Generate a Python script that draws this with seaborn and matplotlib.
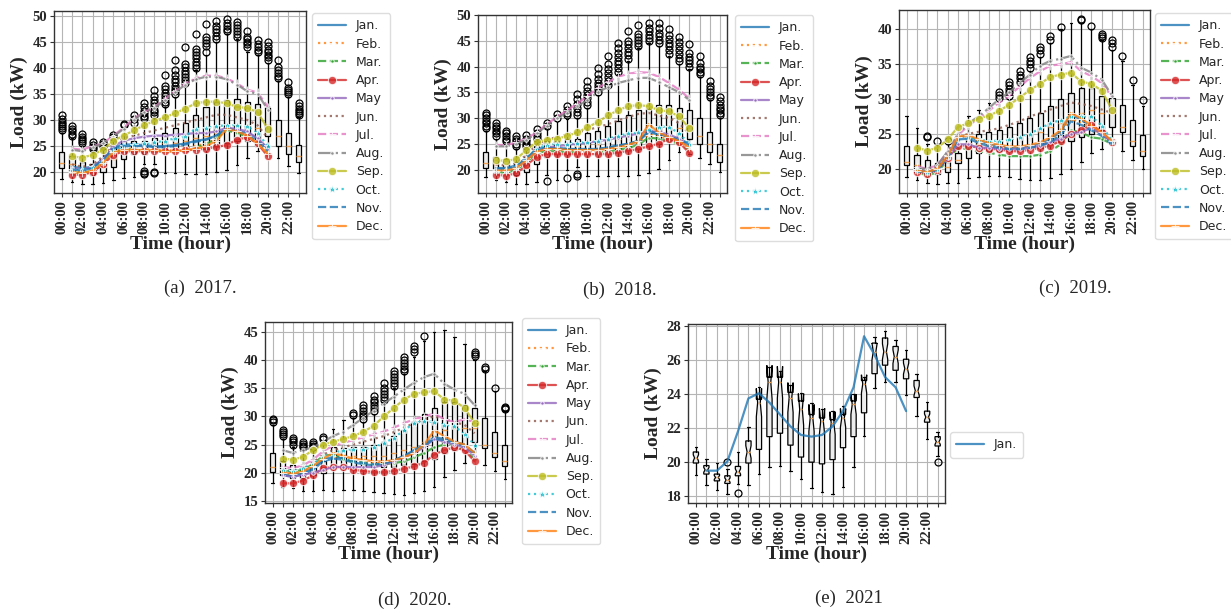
import numpy as np
import pandas as pd
import matplotlib
matplotlib.use("Agg")
import matplotlib.pyplot as plt
import seaborn as sns

# ---------------------------------------------------------------- labels
HOURS = [f"{h:02d}:00" for h in range(24)]
MONTHS = ["Jan.", "Feb.", "Mar.", "Apr.", "May", "Jun.",
          "Jul.", "Aug.", "Sep.", "Oct.", "Nov.", "Dec."]
LINE_HOURS = list(range(1, 21))   # hourly positions covered by the monthly curves

# ---------------------------------------------------------------- 2017
q1_2017 = [20.8, 20.3, 19.8, 19.5, 20.0, 21.0, 22.5, 23.5, 23.5, 24.0, 24.0, 24.0,
           24.0, 24.5, 24.5, 25.0, 25.5, 26.0, 26.0, 25.0, 27.0, 25.0, 23.5, 22.0]
med_2017 = [21.8, 21.5, 20.8, 20.3, 21.0, 22.5, 24.0, 24.5, 24.5, 25.0, 25.5, 25.5,
            26.0, 26.5, 27.0, 27.5, 28.5, 29.0, 29.0, 28.5, 29.0, 27.0, 25.0, 23.0]
q3_2017 = [23.8, 23.0, 22.0, 21.5, 22.5, 24.9, 25.9, 26.0, 26.0, 26.5, 27.5, 28.5,
           29.5, 31.0, 32.5, 33.5, 33.8, 34.0, 33.5, 33.0, 32.5, 30.0, 27.5, 25.2]
lo_2017 = [18.7, 18.2, 17.8, 17.7, 18.0, 18.4, 18.9, 19.0, 21.5, 21.5, 19.9, 19.8,
           19.7, 19.6, 19.6, 20.0, 20.5, 21.3, 22.8, 24.0, 24.0, 22.8, 21.2, 19.8]
hi_2017 = [27.5, 26.5, 25.0, 24.0, 24.5, 26.3, 28.5, 28.8, 29.8, 30.5, 32.5, 34.5,
           36.5, 39.5, 42.5, 45.0, 46.5, 45.5, 43.0, 42.5, 41.0, 37.5, 34.5, 30.5]
fl_2017 = [
    [28.0, 28.4, 28.8, 29.2, 29.6, 30.1, 30.9],
    [27.0, 27.4, 27.8, 28.3, 28.8],
    [25.5, 25.9, 26.3, 26.8, 27.3],
    [24.5, 24.9, 25.3, 25.8],
    [25.0, 25.4, 25.8],
    [26.8, 27.1],
    [29.0, 29.3],
    [29.5, 30.2, 31.0],
    [30.3, 30.8, 31.3, 31.8, 32.4, 33.3, 19.6, 19.9, 20.2],
    [31.0, 31.5, 32.0, 32.6, 33.2, 33.8, 34.6, 35.8, 19.8, 20.1],
    [33.0, 33.5, 34.0, 34.6, 35.2, 35.9, 36.6, 38.6],
    [35.0, 35.5, 36.0, 36.6, 37.2, 37.9, 38.6, 39.5, 41.5],
    [37.0, 37.6, 38.2, 38.8, 39.4, 40.1, 40.8, 44.0],
    [40.0, 40.6, 41.2, 41.8, 42.4, 43.0, 43.7, 46.5],
    [43.0, 44.2, 44.8, 45.4, 46.0, 48.5],
    [45.5, 46.2, 46.8, 47.4, 48.0, 49.0],
    [47.0, 47.5, 48.0, 48.6, 49.4],
    [46.0, 46.5, 47.0, 47.6, 48.2, 48.8],
    [44.0, 44.5, 45.0, 45.5, 46.0, 47.0],
    [43.0, 43.5, 44.0, 44.6, 45.3],
    [41.5, 42.0, 42.5, 43.0, 43.5, 44.2, 45.0],
    [38.0, 38.5, 39.0, 39.6, 40.2, 41.5],
    [35.0, 35.4, 35.8, 36.2, 37.3],
    [31.0, 31.4, 31.8, 32.2, 32.7, 33.3],
]
lines_2017 = {
    "Jan.": [21.0, 20.8, 21.0, 22.5, 24.8, 25.3, 25.3, 25.2, 25.0, 25.0, 25.2, 25.5, 26.0, 26.3, 27.0, 28.5, 28.0, 27.5, 26.5, 24.5],
    "Feb.": [20.3, 20.0, 20.5, 22.0, 24.0, 24.5, 24.5, 24.4, 24.3, 24.2, 24.3, 24.6, 25.0, 25.5, 26.3, 28.2, 27.8, 27.0, 26.0, 24.0],
    "Mar.": [20.0, 19.8, 20.3, 21.8, 23.8, 24.3, 24.3, 24.2, 24.0, 24.0, 24.0, 24.3, 24.8, 25.3, 26.5, 28.0, 27.5, 26.8, 25.5, 23.5],
    "Apr.": [19.5, 19.5, 20.0, 21.5, 23.3, 24.0, 24.0, 24.0, 24.0, 24.0, 24.0, 24.2, 24.3, 24.5, 24.8, 25.2, 26.2, 26.7, 25.5, 23.0],
    "May":  [20.8, 20.5, 21.0, 22.5, 25.0, 26.0, 26.5, 26.8, 27.0, 27.0, 27.2, 27.3, 27.5, 27.5, 27.8, 28.5, 28.3, 27.8, 26.5, 24.5],
    "Jun.": [21.5, 21.0, 21.5, 23.0, 25.5, 26.5, 27.0, 27.5, 28.0, 28.5, 29.0, 29.5, 30.0, 30.5, 31.0, 31.0, 30.5, 30.0, 29.0, 26.5],
    "Jul.": [24.5, 24.3, 25.0, 25.5, 27.0, 28.5, 30.3, 31.5, 32.5, 34.0, 35.5, 37.0, 38.0, 38.5, 38.5, 38.0, 37.0, 35.8, 35.3, 32.5],
    "Aug.": [24.3, 24.0, 24.8, 25.5, 26.8, 28.3, 30.0, 31.5, 32.3, 33.8, 35.3, 36.8, 37.8, 38.3, 38.3, 37.8, 36.8, 35.5, 35.0, 32.0],
    "Sep.": [23.0, 22.8, 23.3, 24.3, 26.0, 27.0, 28.0, 29.0, 29.8, 30.5, 31.3, 32.2, 33.2, 33.5, 33.5, 33.2, 32.5, 32.3, 31.5, 28.3],
    "Oct.": [20.5, 20.5, 21.0, 22.0, 24.0, 25.0, 25.3, 25.5, 25.7, 26.0, 26.5, 27.0, 28.3, 28.5, 28.8, 29.0, 29.0, 28.8, 27.5, 25.0],
    "Nov.": [20.5, 20.3, 20.8, 22.3, 24.5, 25.0, 25.0, 25.0, 24.8, 24.8, 25.0, 25.3, 25.8, 26.2, 27.0, 28.3, 27.8, 27.0, 26.0, 24.0],
    "Dec.": [20.0, 19.8, 20.3, 21.8, 23.8, 24.2, 24.2, 24.2, 24.2, 24.0, 24.0, 24.2, 24.5, 25.0, 26.0, 28.3, 27.8, 27.0, 25.5, 23.5],
}

# ---------------------------------------------------------------- 2018
q1_2018 = [20.3, 20.0, 19.5, 19.0, 19.5, 21.0, 22.5, 23.0, 23.0, 23.5, 23.5, 23.5,
           23.5, 23.5, 23.8, 24.0, 24.5, 25.0, 25.5, 25.0, 26.0, 25.0, 23.5, 21.5]
med_2018 = [21.2, 21.0, 20.5, 20.0, 20.5, 22.3, 24.0, 24.0, 24.2, 24.5, 25.0, 25.0,
            25.5, 26.0, 26.5, 27.0, 27.5, 28.0, 28.5, 28.0, 28.5, 26.5, 25.0, 22.8]
q3_2018 = [23.4, 22.5, 22.0, 21.5, 22.5, 24.5, 25.5, 25.5, 26.0, 26.0, 27.0, 27.5,
           28.5, 29.5, 30.5, 31.5, 31.8, 32.5, 32.5, 32.0, 31.5, 30.0, 27.3, 25.0]
lo_2018 = [18.5, 18.0, 17.5, 17.2, 17.2, 17.5, 19.0, 18.0, 20.0, 20.5, 18.7, 18.7,
           18.7, 18.7, 18.8, 19.0, 19.3, 20.2, 21.8, 23.5, 23.0, 22.3, 21.0, 19.5]
hi_2018 = [27.5, 26.0, 25.0, 24.0, 24.0, 25.5, 28.0, 29.5, 29.8, 30.0, 32.0, 34.5,
           36.0, 38.5, 41.0, 43.5, 44.5, 44.0, 42.0, 40.5, 39.5, 38.0, 33.5, 30.0]
fl_2018 = [
    [28.0, 28.5, 29.0, 29.5, 30.0, 30.5, 31.0],
    [26.5, 27.0, 27.5, 28.0, 28.5, 29.0],
    [25.5, 26.0, 26.5, 27.0, 27.5],
    [24.5, 25.0, 25.5, 26.0, 26.5],
    [24.5, 25.0, 25.5, 26.0, 26.7],
    [26.0, 26.5, 27.0, 27.8],
    [28.5, 29.0, 17.7],
    [30.0, 30.7],
    [30.5, 31.0, 31.6, 32.3, 18.4],
    [30.5, 31.2, 32.0, 32.8, 33.6, 34.7, 18.8, 19.1],
    [32.5, 33.1, 33.8, 34.5, 35.2, 36.0, 37.2],
    [35.0, 35.6, 36.2, 36.8, 37.5, 38.5, 39.8],
    [36.5, 37.2, 38.0, 38.8, 39.6, 40.5, 42.0],
    [39.0, 39.7, 40.4, 41.1, 41.8, 42.6, 43.5, 44.5],
    [41.5, 42.2, 42.9, 43.6, 44.3, 45.0, 46.8],
    [44.0, 44.6, 45.2, 45.8, 46.4, 48.0],
    [45.0, 45.6, 46.2, 46.8, 47.5, 48.5],
    [44.5, 45.2, 45.9, 46.6, 47.4, 48.5],
    [42.5, 43.2, 43.9, 44.6, 45.4, 46.2, 47.3],
    [41.0, 41.7, 42.4, 43.2, 44.0, 44.8, 45.8],
    [40.0, 40.6, 41.2, 41.9, 42.6, 44.3],
    [38.5, 39.0, 39.5, 40.0, 40.6, 42.0],
    [34.0, 34.5, 35.0, 35.6, 36.2, 37.2],
    [30.5, 31.0, 31.5, 32.0, 32.6, 33.3, 34.0],
]
lines_2018 = {
    "Jan.": [20.3, 20.3, 20.8, 22.3, 24.0, 24.3, 24.2, 24.0, 24.0, 24.0, 24.0, 24.3, 24.7, 25.0, 25.5, 27.2, 26.8, 26.3, 26.0, 25.0],
    "Feb.": [20.0, 19.9, 20.4, 21.9, 23.7, 24.0, 23.9, 23.8, 23.7, 23.7, 23.8, 24.0, 24.4, 24.8, 25.3, 26.8, 26.5, 26.0, 25.5, 24.5],
    "Mar.": [19.5, 19.4, 19.9, 21.4, 23.2, 23.6, 23.5, 23.4, 23.3, 23.3, 23.3, 23.5, 23.8, 24.2, 24.8, 26.2, 26.0, 25.6, 25.0, 23.8],
    "Apr.": [19.0, 18.8, 19.3, 20.8, 22.5, 23.0, 23.0, 23.0, 23.0, 23.0, 23.0, 23.0, 23.3, 23.6, 24.0, 24.5, 25.0, 26.0, 25.3, 23.2],
    "May":  [20.0, 19.8, 20.3, 21.8, 23.6, 24.3, 24.5, 24.8, 25.0, 25.2, 25.5, 25.8, 26.2, 26.6, 27.0, 27.5, 27.3, 26.8, 26.0, 24.5],
    "Jun.": [21.0, 20.8, 21.3, 22.8, 24.8, 25.8, 26.3, 26.8, 27.2, 27.7, 28.2, 28.8, 29.5, 30.2, 30.8, 31.0, 30.5, 30.0, 29.0, 27.0],
    "Jul.": [24.8, 24.7, 25.3, 26.0, 27.2, 28.8, 30.2, 31.5, 32.8, 34.3, 35.8, 37.0, 38.0, 38.6, 38.9, 38.8, 38.0, 36.8, 35.5, 33.8],
    "Aug.": [24.5, 24.5, 25.0, 25.8, 27.0, 28.5, 30.0, 31.0, 32.3, 33.5, 35.0, 36.0, 36.8, 37.3, 37.8, 37.8, 37.0, 36.0, 35.0, 33.5],
    "Sep.": [21.8, 21.7, 22.0, 23.8, 25.3, 25.8, 26.0, 26.5, 27.2, 28.2, 29.2, 30.5, 31.5, 32.3, 32.5, 32.3, 31.5, 31.3, 30.3, 28.0],
    "Oct.": [20.0, 20.0, 20.5, 22.0, 24.0, 24.8, 25.0, 25.0, 25.2, 25.3, 25.5, 26.0, 26.5, 27.0, 27.2, 27.8, 28.3, 28.3, 27.0, 25.0],
    "Nov.": [20.2, 20.1, 20.6, 22.1, 23.8, 24.2, 24.1, 24.0, 23.9, 23.9, 24.0, 24.2, 24.6, 25.0, 25.6, 27.5, 27.0, 26.3, 25.8, 24.8],
    "Dec.": [19.8, 19.8, 20.3, 21.8, 23.5, 24.0, 24.0, 23.8, 23.8, 23.8, 23.8, 24.0, 24.3, 24.8, 25.5, 28.8, 27.2, 26.3, 25.5, 24.3],
}

# ---------------------------------------------------------------- 2019
q1_2019 = [20.5, 19.5, 19.3, 19.2, 19.5, 20.8, 21.5, 22.2, 22.5, 22.5, 22.5, 22.8,
           23.0, 23.0, 23.5, 23.8, 24.0, 24.5, 25.0, 25.5, 26.0, 25.2, 23.2, 21.8]
med_2019 = [21.0, 20.5, 20.0, 19.8, 20.3, 21.3, 23.0, 23.5, 23.8, 24.0, 24.2, 24.5,
            25.0, 25.3, 26.0, 26.5, 27.0, 28.0, 28.5, 28.0, 28.0, 26.0, 24.0, 22.5]
q3_2019 = [23.3, 22.0, 21.3, 20.8, 21.0, 22.2, 24.5, 25.0, 25.3, 25.5, 26.0, 26.5,
           27.3, 28.0, 29.0, 30.0, 30.8, 31.6, 31.6, 30.5, 30.2, 29.2, 27.0, 24.8]
lo_2019 = [18.8, 18.3, 18.0, 17.8, 18.0, 18.0, 18.7, 18.8, 19.0, 19.0, 18.8, 18.5,
           18.3, 18.3, 18.7, 19.2, 20.0, 21.0, 22.2, 22.8, 24.0, 22.5, 21.2, 20.0]
hi_2019 = [27.5, 25.8, 23.5, 23.5, 23.5, 25.0, 27.5, 28.5, 29.5, 29.8, 30.0, 32.0,
           34.0, 36.0, 38.0, 40.0, 41.0, 41.0, 40.0, 38.5, 37.0, 35.5, 32.0, 29.0]
fl_2019 = [
    [], [], [24.5, 24.7], [24.0], [24.0], [], [], [], [],
    [30.2, 30.6, 31.0],
    [30.5, 31.0, 31.5, 32.0, 32.5],
    [32.5, 33.0, 33.5, 34.0],
    [34.5, 35.0, 35.5, 36.0],
    [36.5, 37.0, 37.5],
    [38.5, 39.0],
    [40.3],
    [],
    [41.3, 41.5],
    [40.5],
    [38.8, 39.0, 39.3],
    [37.5, 38.0, 38.5],
    [36.2],
    [32.8],
    [29.8],
]
lines_2019 = {
    "Jan.": [19.8, 19.6, 20.0, 21.8, 24.5, 24.7, 24.0, 23.5, 23.3, 23.0, 23.0, 23.2, 23.6, 24.2, 25.3, 27.8, 27.0, 26.0, 25.0, 23.8],
    "Feb.": [19.9, 19.7, 20.1, 22.0, 24.6, 24.5, 23.8, 23.3, 23.0, 22.8, 22.8, 23.0, 23.4, 24.0, 25.0, 27.2, 26.6, 25.8, 24.8, 23.7],
    "Mar.": [19.5, 19.0, 19.5, 21.3, 23.0, 22.8, 22.5, 22.3, 22.0, 21.8, 21.8, 21.8, 22.0, 22.5, 23.5, 25.5, 25.2, 24.5, 24.3, 23.5],
    "Apr.": [19.5, 19.3, 19.8, 21.5, 23.3, 23.3, 23.0, 22.8, 22.8, 22.5, 22.5, 22.7, 23.0, 23.3, 24.0, 25.0, 25.5, 26.3, 25.3, 23.8],
    "May":  [19.8, 19.5, 19.9, 21.5, 23.5, 23.5, 23.0, 23.0, 22.8, 22.8, 22.8, 23.0, 23.3, 23.8, 24.3, 25.0, 25.3, 25.8, 25.0, 23.8],
    "Jun.": [20.0, 19.8, 20.3, 22.0, 24.5, 25.0, 25.3, 25.5, 25.8, 26.3, 26.8, 27.5, 28.0, 28.5, 29.0, 29.5, 29.3, 29.0, 28.5, 28.0],
    "Jul.": [20.3, 20.0, 20.5, 22.5, 24.8, 26.2, 27.2, 28.3, 29.5, 30.5, 31.8, 33.0, 34.0, 34.8, 35.0, 35.3, 34.0, 33.3, 32.3, 30.3],
    "Aug.": [20.0, 20.0, 20.5, 22.5, 25.0, 26.5, 27.5, 28.7, 30.0, 31.0, 32.3, 33.5, 34.8, 35.5, 35.8, 36.2, 34.5, 33.8, 32.8, 30.5],
    "Sep.": [23.0, 22.6, 23.0, 24.2, 26.0, 26.5, 27.2, 27.6, 28.3, 29.2, 30.2, 31.3, 32.2, 33.2, 33.5, 33.8, 32.5, 32.2, 31.2, 28.5],
    "Oct.": [19.8, 19.5, 20.0, 21.8, 24.3, 24.5, 24.2, 24.0, 24.0, 24.2, 24.5, 25.0, 25.8, 26.5, 27.0, 27.5, 27.5, 27.5, 26.2, 24.0],
    "Nov.": [19.6, 19.4, 19.8, 21.6, 24.2, 24.3, 23.7, 23.2, 23.0, 22.8, 22.8, 23.0, 23.3, 23.8, 24.8, 26.8, 26.3, 25.5, 24.7, 23.5],
    "Dec.": [19.7, 19.5, 20.0, 21.8, 24.6, 24.8, 24.2, 23.7, 23.4, 23.2, 23.2, 23.4, 23.8, 24.5, 25.5, 28.0, 27.2, 26.2, 25.2, 24.0],
}

# ---------------------------------------------------------------- 2020
q1_2020 = [20.2, 19.5, 19.0, 19.0, 19.5, 20.0, 21.0, 21.2, 21.2, 21.2, 21.0, 21.0,
           21.0, 21.3, 21.5, 22.0, 22.5, 23.5, 24.0, 24.0, 25.5, 24.3, 22.8, 21.2]
med_2020 = [21.0, 20.5, 20.0, 19.8, 20.3, 21.0, 22.8, 23.0, 23.0, 23.0, 23.0, 23.0,
            23.5, 24.0, 24.5, 25.5, 26.5, 27.5, 28.0, 28.0, 28.0, 25.0, 23.5, 22.0]
q3_2020 = [23.5, 22.0, 21.3, 21.0, 21.5, 22.0, 24.5, 24.3, 24.5, 24.5, 25.0, 25.5,
           26.5, 27.5, 29.0, 30.5, 31.5, 32.5, 32.5, 32.0, 31.5, 29.8, 27.3, 25.0]
lo_2020 = [18.2, 17.5, 17.2, 16.8, 16.8, 17.0, 16.8, 17.0, 17.0, 16.8, 16.5, 16.3,
           16.2, 16.1, 16.3, 16.8, 17.5, 19.3, 20.5, 21.8, 22.3, 21.3, 20.3, 18.9]
hi_2020 = [28.5, 26.0, 24.5, 24.0, 24.0, 25.5, 27.8, 29.3, 29.8, 29.0, 30.5, 32.5,
           35.0, 37.5, 40.5, 43.5, 45.0, 45.3, 44.2, 42.8, 40.0, 38.0, 34.5, 31.0]
fl_2020 = [
    [29.0, 29.3, 29.6],
    [26.6, 26.9, 27.2, 27.5],
    [25.0, 25.4, 25.8, 26.2],
    [24.5, 24.8, 25.1, 25.5],
    [24.5, 24.8, 25.1, 25.5],
    [26.0, 26.3],
    [], [],
    [30.2, 30.6],
    [29.5, 30.0, 30.5, 31.0, 31.5, 32.0],
    [31.0, 31.5, 32.0, 32.5, 33.0, 33.7],
    [33.0, 33.5, 34.0, 34.5, 35.0, 36.0],
    [35.5, 36.0, 36.5, 37.0, 37.5, 38.0],
    [38.0, 38.5, 39.0, 39.5, 40.0, 40.5],
    [41.5, 42.0, 42.6],
    [44.3],
    [], [], [], [],
    [40.8, 41.1, 41.5],
    [38.5, 38.8],
    [35.0],
    [31.3, 31.5, 31.7],
]
lines_2020 = {
    "Jan.": [19.5, 19.3, 19.7, 20.5, 22.0, 22.5, 22.3, 21.8, 21.5, 21.3, 21.5, 22.2, 23.0, 24.0, 25.0, 26.3, 26.0, 25.5, 25.0, 23.5],
    "Feb.": [20.0, 19.8, 20.2, 21.0, 22.5, 23.0, 22.8, 22.3, 22.0, 21.8, 21.8, 22.2, 22.8, 23.5, 24.5, 26.0, 25.8, 25.3, 24.8, 23.3],
    "Mar.": [20.5, 20.2, 20.5, 21.5, 23.0, 23.2, 22.5, 22.0, 21.8, 21.5, 21.5, 21.7, 22.0, 22.7, 23.5, 24.5, 25.0, 25.0, 24.0, 22.5],
    "Apr.": [18.1, 18.1, 18.6, 19.5, 20.8, 21.0, 21.0, 20.5, 20.3, 20.1, 20.1, 20.3, 20.7, 21.1, 21.8, 23.2, 24.0, 24.5, 24.0, 22.0],
    "May":  [19.5, 19.3, 19.6, 20.0, 20.5, 21.0, 21.0, 21.0, 21.0, 21.0, 21.3, 22.0, 22.7, 23.5, 24.5, 26.0, 25.5, 25.0, 24.5, 23.0],
    "Jun.": [20.5, 20.3, 20.8, 21.8, 23.2, 24.0, 24.5, 25.0, 25.5, 26.0, 26.5, 27.2, 28.0, 28.8, 29.5, 30.0, 29.5, 29.0, 28.5, 27.0],
    "Jul.": [21.0, 20.8, 21.3, 22.3, 23.8, 24.8, 25.3, 25.8, 26.3, 26.8, 27.3, 28.0, 28.8, 29.5, 30.0, 30.5, 29.5, 29.0, 29.5, 29.0],
    "Aug.": [24.0, 23.5, 24.0, 24.5, 25.5, 26.5, 27.3, 28.5, 29.8, 31.0, 32.3, 33.5, 34.8, 36.0, 37.0, 37.6, 35.8, 34.8, 34.0, 32.0],
    "Sep.": [22.5, 22.3, 22.8, 24.0, 25.0, 25.5, 26.0, 26.5, 27.3, 28.3, 30.0, 31.5, 33.0, 34.0, 34.3, 34.5, 33.0, 32.8, 31.5, 28.8],
    "Oct.": [20.5, 20.3, 20.8, 21.5, 22.8, 23.5, 24.0, 24.2, 24.2, 24.5, 25.2, 26.2, 27.5, 28.8, 29.2, 29.0, 28.5, 28.3, 26.8, 25.0],
    "Nov.": [19.8, 19.6, 20.0, 20.8, 22.3, 22.8, 22.6, 22.0, 21.7, 21.5, 21.6, 22.2, 22.9, 23.8, 24.8, 26.0, 25.8, 25.3, 24.8, 23.4],
    "Dec.": [20.0, 19.8, 20.2, 21.2, 22.5, 23.5, 23.0, 22.5, 22.3, 22.0, 22.0, 22.2, 22.7, 23.5, 25.0, 27.5, 26.5, 25.5, 25.0, 23.5],
}

# ---------------------------------------------------------------- 2021 (January only)
q1_2021 = [19.95, 19.3, 18.9, 18.75, 19.2, 19.95, 20.75, 21.5, 21.7, 21.0, 20.3, 20.0,
           19.9, 20.15, 20.85, 21.5, 22.9, 25.2, 25.7, 25.4, 24.9, 23.8, 22.35, 20.95]
med_2021 = [20.25, 19.55, 19.1, 18.95, 19.45, 20.6, 23.5, 24.7, 24.7, 23.8, 23.1, 22.6,
            22.4, 22.3, 22.6, 23.4, 24.6, 26.5, 26.5, 26.2, 25.5, 24.2, 22.65, 21.2]
q3_2021 = [20.6, 19.8, 19.3, 19.2, 19.75, 21.25, 23.7, 25.0, 25.0, 24.1, 23.6, 22.8,
           22.6, 22.5, 22.8, 23.6, 24.8, 27.0, 27.3, 26.8, 26.05, 24.8, 23.0, 21.5]
lo_2021 = [19.25, 18.65, 18.35, 18.1, 18.7, 18.65, 19.3, 19.7, 19.75, 19.5, 19.0, 18.5,
           18.25, 18.1, 18.55, 19.7, 21.55, 24.35, 24.7, 24.7, 23.95, 22.7, 21.35, 20.35]
hi_2021 = [20.9, 20.2, 19.95, 19.6, 20.6, 22.05, 24.4, 25.6, 25.35, 24.55, 24.05, 23.45,
           23.1, 23.0, 23.3, 24.0, 25.0, 27.35, 27.7, 27.2, 26.6, 25.2, 23.55, 21.75]
fl_2021 = [[], [], [], [20.0], [18.2], [], [], [], [], [], [], [],
           [], [], [], [], [], [], [], [], [], [], [], [20.0]]
lines_2021 = {
    "Jan.": [19.5, 19.5, 20.05, 21.8, 23.75, 24.05, 23.5, 22.8, 22.1, 21.6, 21.5, 21.6,
             22.1, 23.0, 24.4, 27.4, 26.3, 25.0, 24.4, 23.0],
}
DAYS_2021 = 31   # samples per hourly box, used for the notch interval

# ---------------------------------------------------------------- styling
PALETTE = sns.color_palette("tab10", 10)
MONTH_STYLE = {
    "Jan.": dict(color=PALETTE[0], linestyle="-"),
    "Feb.": dict(color=PALETTE[1], linestyle=":", marker="+", markersize=6),
    "Mar.": dict(color=PALETTE[2], linestyle="--", marker=".", markersize=5),
    "Apr.": dict(color=PALETTE[3], linestyle="-", marker="o", markersize=6),
    "May":  dict(color=PALETTE[4], linestyle="-", marker=".", markersize=5),
    "Jun.": dict(color=PALETTE[5], linestyle=":"),
    "Jul.": dict(color=PALETTE[6], linestyle="--", marker="+", markersize=6),
    "Aug.": dict(color=PALETTE[7], linestyle="-.", marker=".", markersize=5),
    "Sep.": dict(color=PALETTE[8], linestyle="-", marker="o", markersize=6),
    "Oct.": dict(color=PALETTE[9], linestyle=":", marker="*", markersize=6),
    "Nov.": dict(color=PALETTE[0], linestyle="--"),
    "Dec.": dict(color=PALETTE[1], linestyle="-", marker="+", markersize=6),
}

sns.set_theme(style="ticks")
plt.rcParams["font.family"] = ["Liberation Serif", "DejaVu Serif"]
plt.rcParams["axes.edgecolor"] = "#333333"
plt.rcParams["axes.linewidth"] = 1.0

SERIF = ["Liberation Serif", "DejaVu Serif"]
W, H = 1231, 609
fig = plt.figure(figsize=(W / 100, H / 100), dpi=100)


def fig_rect(left, top, right, bottom):
    return [left / W, 1 - bottom / H, (right - left) / W, (bottom - top) / H]


def box_stats(q1, med, q3, lo, hi, fliers, n=None):
    stats = []
    for i in range(len(q1)):
        s = dict(q1=q1[i], med=med[i], q3=q3[i], whislo=lo[i], whishi=hi[i],
                 fliers=np.array(fliers[i], dtype=float))
        if n is not None:
            half = 1.57 * (q3[i] - q1[i]) / np.sqrt(n)
            s["cilo"], s["cihi"] = med[i] - half, med[i] + half
        stats.append(s)
    return stats


def draw_panel(rect, stats, lines, ylim, yticks, legend_xy, caption, caption_xy,
               notch=False):
    ax = fig.add_axes(fig_rect(*rect))
    ax.set_axisbelow(True)
    ax.grid(True, color="#b5b5b5", linewidth=0.8)

    ax.bxp(stats, positions=range(24), widths=0.5, patch_artist=True,
           shownotches=notch, manage_ticks=False,
           boxprops=dict(facecolor="#ececec", edgecolor="black", linewidth=0.9),
           whiskerprops=dict(color="black", linewidth=0.9),
           capprops=dict(color="black", linewidth=0.9),
           medianprops=dict(color="#f0a050", linewidth=1.0),
           flierprops=dict(marker="o", markerfacecolor="none",
                           markeredgecolor="black", markersize=5,
                           markeredgewidth=0.9))

    for month, values in lines.items():
        df = pd.DataFrame({"hour": LINE_HOURS, "load": values})
        sns.lineplot(data=df, x="hour", y="load", ax=ax, label=month,
                     linewidth=1.6, alpha=0.8, zorder=3, **MONTH_STYLE[month])

    ax.set_xlim(-0.75, 23.7)
    ax.set_ylim(*ylim)
    ax.set_xticks(range(24))
    ax.set_xticklabels([h if i % 2 == 0 else "" for i, h in enumerate(HOURS)],
                       rotation=90, fontsize=10.5, fontweight="bold", family=SERIF)
    ax.set_yticks(yticks)
    ax.set_yticklabels([str(v) for v in yticks], fontsize=10.5,
                       fontweight="bold", family=SERIF)
    ax.tick_params(axis="both", direction="out", length=3, width=0.8,
                   color="#333333", pad=2)
    ax.set_xlabel("Time (hour)", fontsize=14, fontweight="bold", family=SERIF,
                  labelpad=1)
    ax.set_ylabel("Load (kW)", fontsize=14, fontweight="bold", family=SERIF,
                  labelpad=3)

    handles, labels = ax.get_legend_handles_labels()
    ax.legend(handles, labels, loc="upper left",
              bbox_to_anchor=(legend_xy[0] / W, 1 - legend_xy[1] / H),
              bbox_transform=fig.transFigure, borderaxespad=0,
              prop=dict(family="DejaVu Sans", size=9), frameon=True,
              edgecolor="#dddddd", framealpha=1.0, handlelength=2.2,
              labelspacing=0.42, borderpad=0.5)

    fig.text(caption_xy[0] / W, 1 - caption_xy[1] / H, caption, ha="center",
             va="center", fontsize=13.5, family=SERIF)
    return ax


draw_panel((54, 11, 306, 193),
           box_stats(q1_2017, med_2017, q3_2017, lo_2017, hi_2017, fl_2017),
           lines_2017, (16.0, 50.9), [20, 25, 30, 35, 40, 45, 50],
           (312, 13), "(a)  2017.", (200, 288))

draw_panel((478, 15, 727, 193),
           box_stats(q1_2018, med_2018, q3_2018, lo_2018, hi_2018, fl_2018),
           lines_2018, (15.45, 50.0), [20, 25, 30, 35, 40, 45, 50],
           (735, 15), "(b)  2018.", (620, 290))

draw_panel((899, 10, 1150, 193),
           box_stats(q1_2019, med_2019, q3_2019, lo_2019, hi_2019, fl_2019),
           lines_2019, (16.5, 42.8), [20, 25, 30, 35, 40],
           (1155, 13), "(c)  2019.", (1075, 288))

draw_panel((265, 322, 512, 503),
           box_stats(q1_2020, med_2020, q3_2020, lo_2020, hi_2020, fl_2020),
           lines_2020, (14.6, 46.8), [15, 20, 25, 30, 35, 40, 45],
           (522, 318), "(d)  2020.", (415, 600))

draw_panel((688, 324, 945, 503),
           box_stats(q1_2021, med_2021, q3_2021, lo_2021, hi_2021, fl_2021,
                     n=DAYS_2021),
           lines_2021, (17.6, 28.12), [18, 20, 22, 24, 26, 28],
           (950, 432), "(e)  2021", (849, 598), notch=True)

fig.savefig("out.png", dpi=100, facecolor="white")
